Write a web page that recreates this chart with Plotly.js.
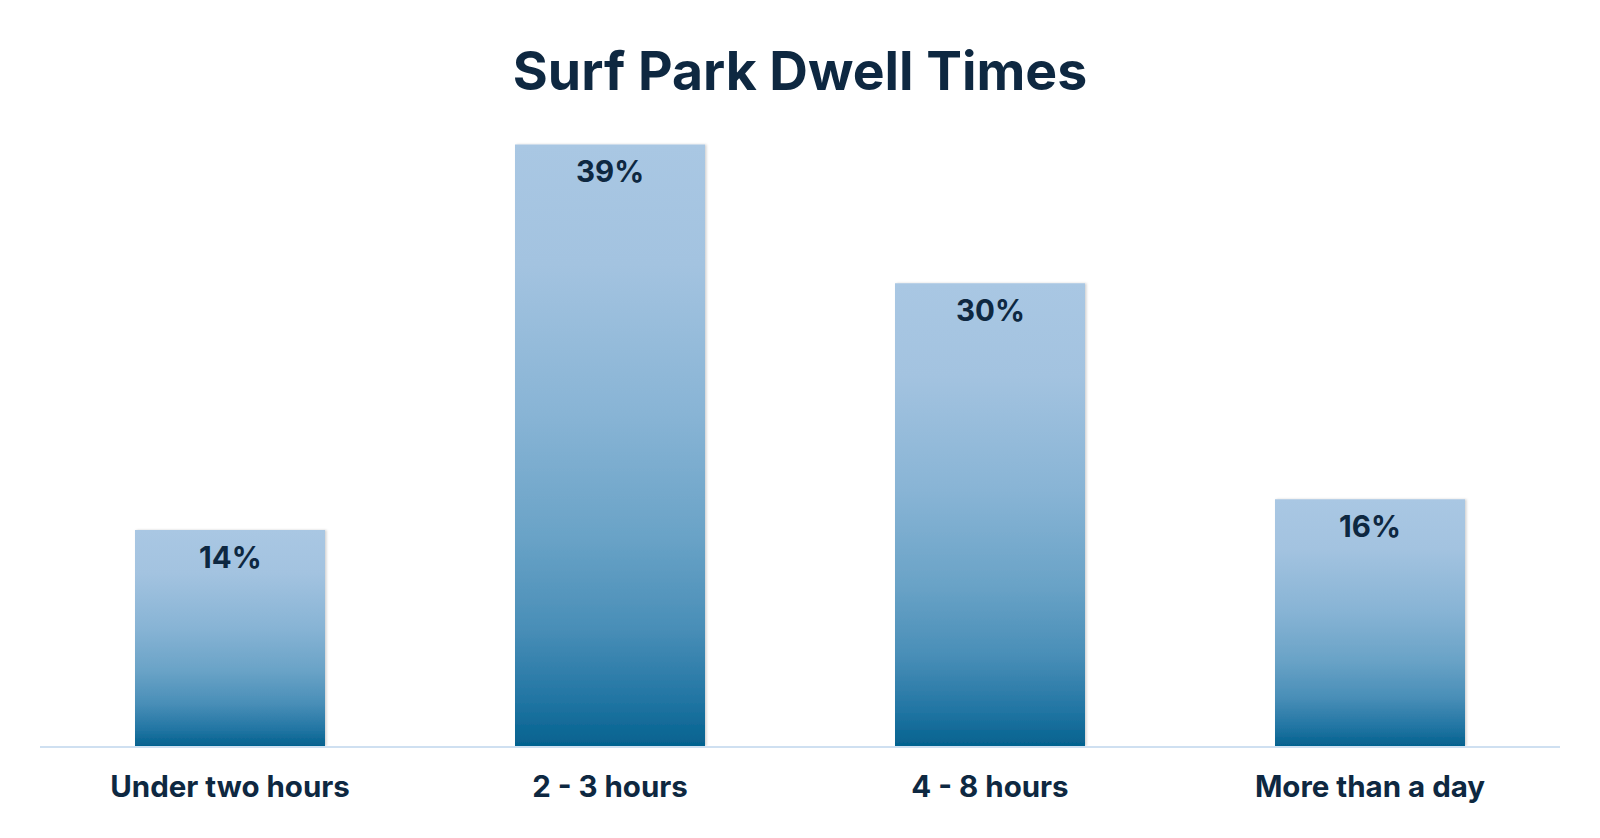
<!DOCTYPE html>
<html>
<head>
<meta charset="utf-8">
<script src="https://cdn.plot.ly/plotly-3.0.1.min.js"></script>
<style>
  html, body { margin: 0; padding: 0; background: #ffffff; }
  #chart { width: 1600px; height: 838px; }
</style>
</head>
<body>
<div id="chart"></div>
<script>
const categories = ["Under two hours", "2 - 3 hours", "4 - 8 hours", "More than a day"];
const values = [14, 39, 30, 16];
const labels = values.map(v => v + "%");
const chartTitle = "Surf Park Dwell Times";

const textColor = "#0e2841";
const fontFamily = "Inter, 'Open Sans', Roboto, sans-serif";

const trace = {
  type: "bar",
  x: categories,
  y: values,
  width: 0.5,
  marker: { color: "#5f9cc4", line: { width: 0 } },
  hoverinfo: "skip",
  showlegend: false
};

const annotations = categories.map((c, i) => ({
  x: c,
  y: values[i],
  xref: "x",
  yref: "y",
  text: "<b>" + labels[i] + "</b>",
  showarrow: false,
  yanchor: "middle",
  yshift: -27,
  font: { family: fontFamily, size: 29.5, color: textColor }
}));

const layout = {
  width: 1600,
  height: 838,
  margin: { l: 40, r: 40, t: 129, b: 92 },
  paper_bgcolor: "#ffffff",
  plot_bgcolor: "#ffffff",
  title: {
    text: "<b>" + chartTitle + "</b>",
    x: 0.5,
    xanchor: "center",
    xref: "paper",
    y: 1 - 71 / 838,
    yanchor: "middle",
    yref: "container",
    font: { family: fontFamily, size: 53.5, color: textColor }
  },
  xaxis: {
    type: "category",
    range: [-0.5, 3.5],
    showline: true,
    linecolor: "#cfe0f1",
    linewidth: 1.5,
    showgrid: false,
    zeroline: false,
    ticks: "",
    ticklabelstandoff: 14,
    tickfont: { family: fontFamily, size: 29.5, color: textColor, weight: 700 },
    fixedrange: true
  },
  yaxis: {
    range: [0, 40],
    visible: false,
    showgrid: false,
    zeroline: false,
    fixedrange: true
  },
  annotations: annotations
};

Plotly.newPlot("chart", [trace], layout, { displayModeBar: false, staticPlot: true }).then(gd => {
  const svg = gd.querySelector("svg.main-svg");
  const ns = "http://www.w3.org/2000/svg";
  let defs = svg.querySelector("defs");
  if (!defs) { defs = document.createElementNS(ns, "defs"); svg.insertBefore(defs, svg.firstChild); }
  const grad = document.createElementNS(ns, "linearGradient");
  grad.setAttribute("id", "barGrad");
  grad.setAttribute("x1", "0"); grad.setAttribute("y1", "0");
  grad.setAttribute("x2", "0"); grad.setAttribute("y2", "1");
  const stops = [
    [0, "#a9c7e3"], [0.2, "#a3c3e0"], [0.45, "#88b4d5"],
    [0.65, "#6aa3c7"], [0.8, "#4a8fb8"], [0.92, "#2376a4"], [1, "#04628f"]
  ];
  stops.forEach(([o, c]) => {
    const s = document.createElementNS(ns, "stop");
    s.setAttribute("offset", o); s.setAttribute("stop-color", c);
    grad.appendChild(s);
  });
  defs.appendChild(grad);
  const filt = document.createElementNS(ns, "filter");
  filt.setAttribute("id", "barShadow");
  filt.setAttribute("x", "-5%"); filt.setAttribute("y", "-5%");
  filt.setAttribute("width", "115%"); filt.setAttribute("height", "110%");
  const ds = document.createElementNS(ns, "feDropShadow");
  ds.setAttribute("dx", "1.5"); ds.setAttribute("dy", "0");
  ds.setAttribute("stdDeviation", "1.2");
  ds.setAttribute("flood-color", "#000"); ds.setAttribute("flood-opacity", "0.18");
  filt.appendChild(ds);
  defs.appendChild(filt);
  gd.querySelectorAll(".barlayer .point path").forEach(p => {
    p.style.fill = "url(#barGrad)";
    p.setAttribute("filter", "url(#barShadow)");
  });
});
</script>
</body>
</html>
